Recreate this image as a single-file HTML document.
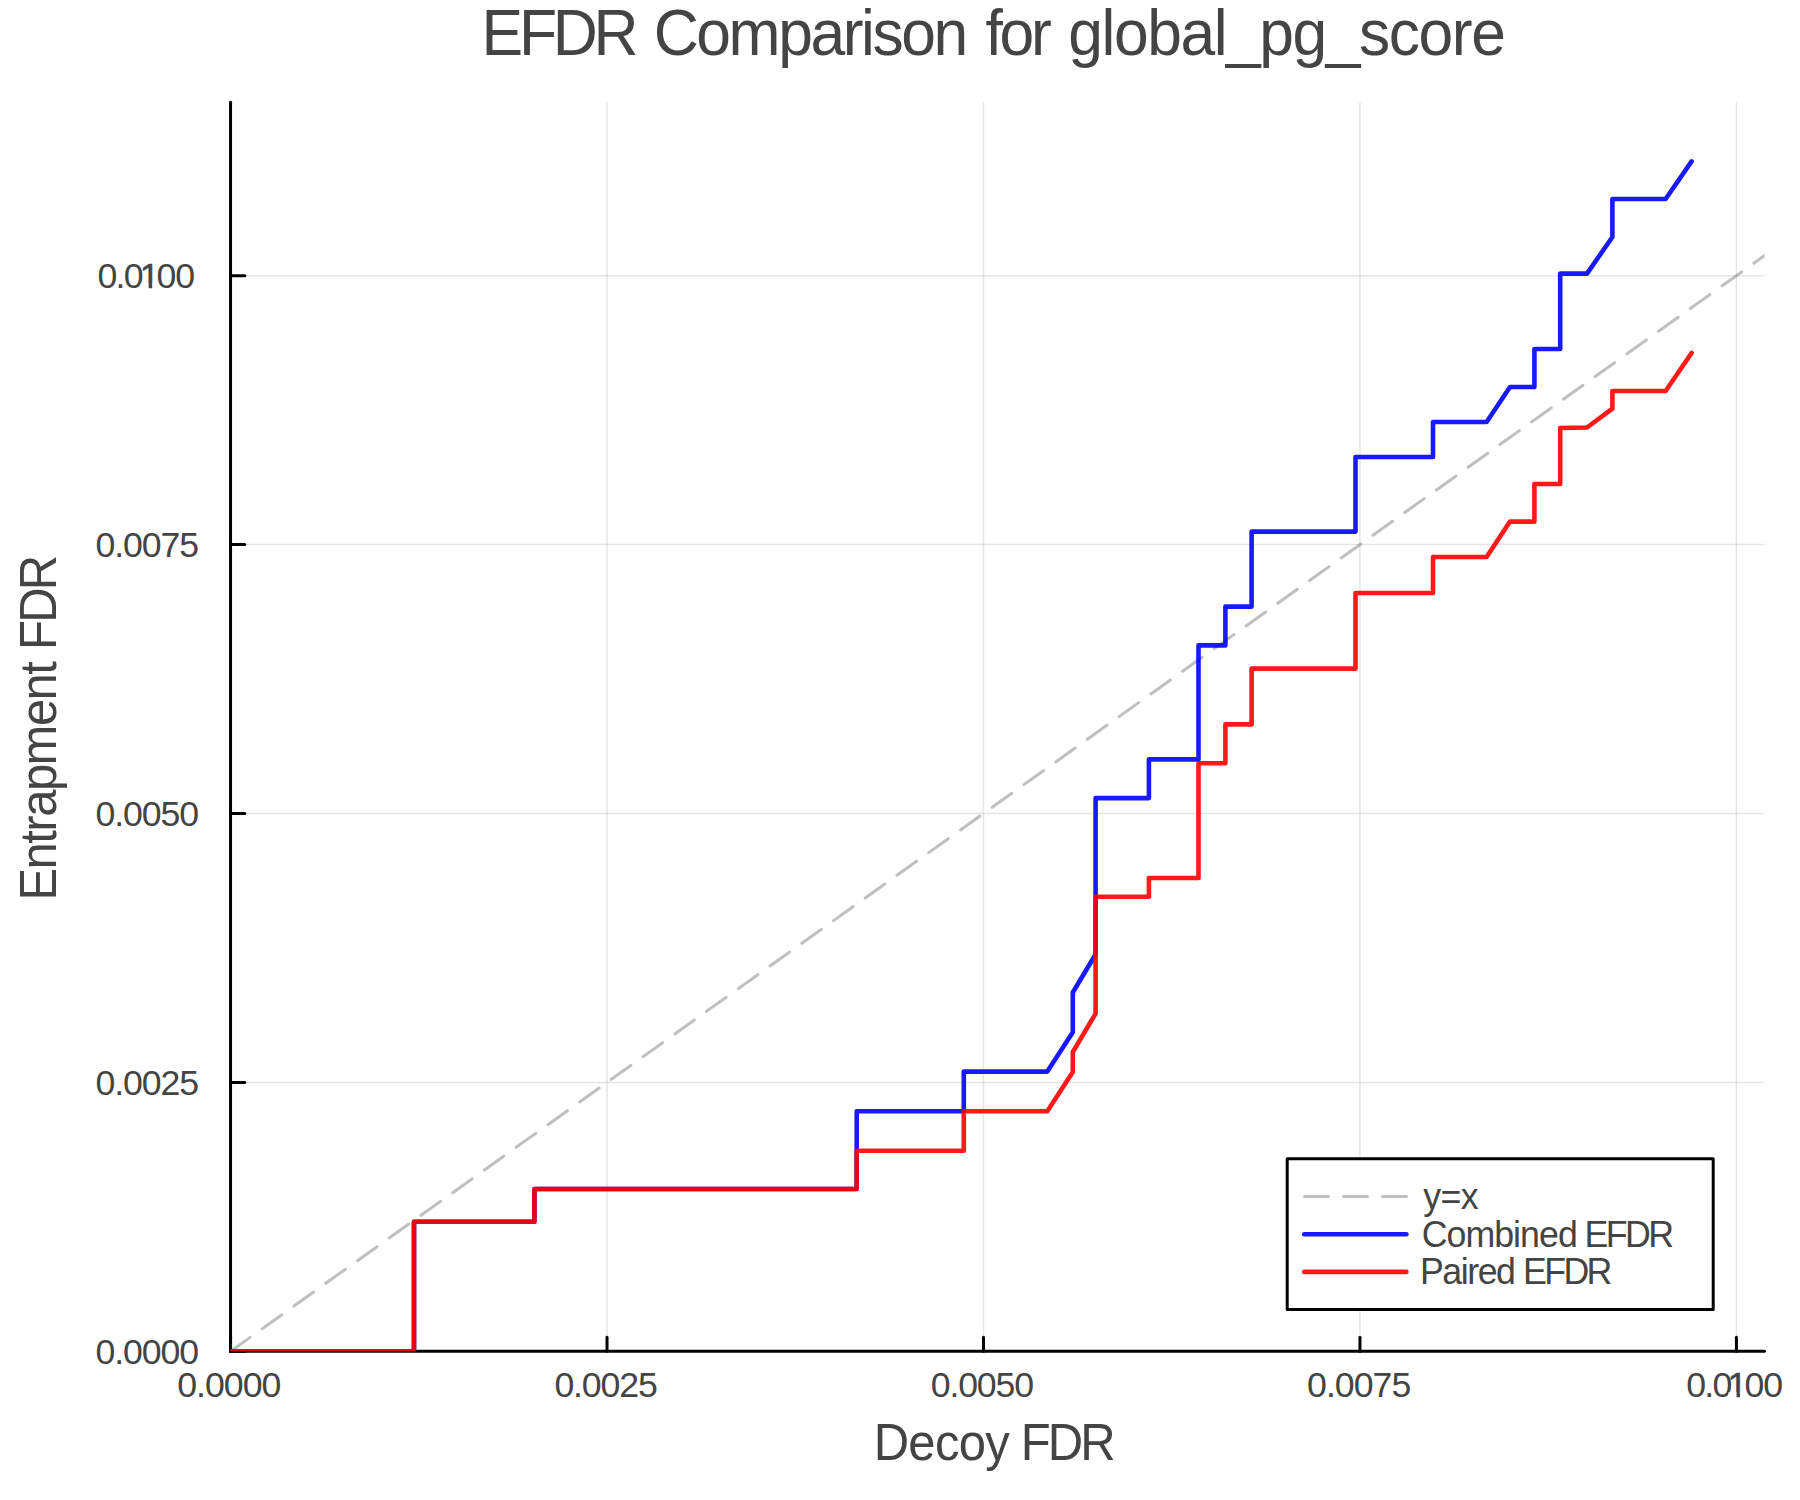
<!DOCTYPE html>
<html lang="en"><head><meta charset="utf-8"><title>EFDR Comparison for global_pg_score</title>
<style>
html,body{margin:0;padding:0;background:#fff;}
body{width:1800px;height:1500px;overflow:hidden;}
svg{display:block;}
text{font-family:"Liberation Sans",sans-serif;fill:#444444;white-space:pre;}
.tick{font-size:35.7px;}
.leg{font-size:35.7px;}
.guide{font-size:49.0px;}
.title{font-size:62.4px;}
.grid{stroke:#000;stroke-opacity:0.1;stroke-width:1.5;fill:none;}
.axis{stroke:#000;stroke-width:3;stroke-linecap:round;fill:none;}
.ser{fill:none;stroke-width:4.6;stroke-opacity:0.9;stroke-linejoin:round;stroke-linecap:round;}
</style></head><body>
<svg width="1800" height="1500" viewBox="0 0 1800 1500">
<rect width="1800" height="1500" fill="#ffffff"/>
<defs><clipPath id="pa"><rect x="230.55" y="102.3" width="1534.0" height="1249.0"/></clipPath></defs>
<g class="grid">
<line x1="607.02" y1="102.3" x2="607.02" y2="1351.35"/>
<line x1="983.49" y1="102.3" x2="983.49" y2="1351.35"/>
<line x1="1359.96" y1="102.3" x2="1359.96" y2="1351.35"/>
<line x1="1736.43" y1="102.3" x2="1736.43" y2="1351.35"/>
<line x1="230.55" y1="1082.42" x2="1764.5" y2="1082.42"/>
<line x1="230.55" y1="813.49" x2="1764.5" y2="813.49"/>
<line x1="230.55" y1="544.56" x2="1764.5" y2="544.56"/>
<line x1="230.55" y1="275.63" x2="1764.5" y2="275.63"/>
</g>
<g class="axis">
<line x1="230.55" y1="1351.35" x2="1764.5" y2="1351.35"/>
<line x1="230.55" y1="1351.35" x2="230.55" y2="102.3"/>
<line x1="230.55" y1="1351.35" x2="230.55" y2="1337.15"/>
<line x1="607.02" y1="1351.35" x2="607.02" y2="1337.15"/>
<line x1="983.49" y1="1351.35" x2="983.49" y2="1337.15"/>
<line x1="1359.96" y1="1351.35" x2="1359.96" y2="1337.15"/>
<line x1="1736.43" y1="1351.35" x2="1736.43" y2="1337.15"/>
<line x1="230.55" y1="1351.35" x2="244.75" y2="1351.35"/>
<line x1="230.55" y1="1082.42" x2="244.75" y2="1082.42"/>
<line x1="230.55" y1="813.49" x2="244.75" y2="813.49"/>
<line x1="230.55" y1="544.56" x2="244.75" y2="544.56"/>
<line x1="230.55" y1="275.63" x2="244.75" y2="275.63"/>
</g>
<g clip-path="url(#pa)">
<line x1="230.55" y1="1351.35" x2="1764.5" y2="255.58" stroke="#808080" stroke-opacity="0.5" stroke-width="3" stroke-dasharray="24 15" stroke-linecap="round"/>
<polyline class="ser" stroke="#0000ff" points="230.6,1351.3 414.0,1351.3 414.0,1221.7 534.4,1221.7 534.4,1189.0 856.7,1189.0 856.7,1111.3 963.8,1111.3 963.8,1071.6 1047.3,1071.6 1072.8,1032.3 1072.8,992.5 1095.6,954.3 1095.6,798.1 1148.9,798.1 1148.9,759.4 1198.5,759.4 1198.5,645.4 1225.4,645.4 1225.4,606.6 1251.6,606.6 1251.6,531.6 1355.5,531.6 1355.5,457.0 1433.0,457.0 1433.0,422.0 1486.6,422.0 1510.0,387.0 1534.4,387.0 1534.4,349.0 1560.2,349.0 1560.2,273.6 1587.0,273.6 1612.4,237.0 1612.4,199.0 1665.6,199.0 1691.6,161.4"/>
<polyline class="ser" stroke="#ff0000" points="230.6,1351.3 414.0,1351.3 414.0,1221.7 534.4,1221.7 534.4,1189.0 856.7,1189.0 856.7,1150.8 963.8,1150.8 963.8,1111.3 1047.3,1111.3 1072.8,1072.0 1072.8,1052.0 1095.6,1013.6 1095.6,896.7 1148.9,896.7 1148.9,878.0 1198.5,878.0 1198.5,763.3 1225.4,763.3 1225.4,724.4 1251.6,724.4 1251.6,668.6 1355.5,668.6 1355.5,593.0 1433.0,593.0 1433.0,557.0 1486.6,557.0 1510.0,521.6 1534.4,521.6 1534.4,484.0 1560.2,484.0 1560.2,428.0 1587.0,427.5 1612.4,408.6 1612.4,391.0 1665.6,391.0 1691.6,353.0"/>
</g>
<rect x="1287.2" y="1158.8" width="426" height="150.6" fill="#fff" stroke="#000" stroke-width="3" stroke-linejoin="round"/>
<line x1="1304.5" y1="1196.4" x2="1407" y2="1196.4" stroke="#808080" stroke-opacity="0.5" stroke-width="3" stroke-dasharray="24 15" stroke-linecap="round"/>
<line x1="1304.2" y1="1234.3" x2="1406.4" y2="1234.3" stroke="#0000ff" stroke-opacity="0.9" stroke-width="4.6" stroke-linecap="round"/>
<line x1="1304.2" y1="1271.9" x2="1406.4" y2="1271.9" stroke="#ff0000" stroke-opacity="0.9" stroke-width="4.6" stroke-linecap="round"/>
<text class="title" transform="translate(0,54.70) scale(1,1.04)" y="0"><tspan x="481.63" style="letter-spacing:-4.27px">EFDR </tspan><tspan x="653.68" style="letter-spacing:-2.42px">Comparison </tspan><tspan x="985.43" style="letter-spacing:-3.22px">for </tspan><tspan x="1068.23" style="letter-spacing:-1.45px">global_pg_score</tspan></text>
<text class="guide" transform="translate(0,1460.20) scale(1,1.05)" y="0"><tspan x="873.67" style="letter-spacing:-0.68px">Decoy </tspan><tspan x="1020.67" style="letter-spacing:-2.82px">FDR</tspan></text>
<text class="guide" transform="translate(55.70,2000) rotate(-90) scale(1,1.05)" y="0"><tspan x="1099.42" style="letter-spacing:-1.52px">Entrapment </tspan><tspan x="1350.07" style="letter-spacing:-2.82px">FDR</tspan></text>
<text class="leg" transform="translate(0,1208.70) scale(1,1.04)" y="0"><tspan x="1423.30" style="letter-spacing:-0.62px">y=x</tspan></text>
<text class="leg" transform="translate(0,1246.50) scale(1,1.04)" y="0"><tspan x="1421.65" style="letter-spacing:-0.94px">Combined </tspan><tspan x="1584.50" style="letter-spacing:-2.57px">EFDR</tspan></text>
<text class="leg" transform="translate(0,1283.90) scale(1,1.04)" y="0"><tspan x="1419.95" style="letter-spacing:-1.43px">Paired </tspan><tspan x="1522.95" style="letter-spacing:-2.57px">EFDR</tspan></text>
<text class="tick" transform="translate(0,1396.80) scale(1,1.0)" y="0"><tspan x="177.18" style="letter-spacing:-0.98px">0.0000</tspan></text>
<text class="tick" transform="translate(0,1396.80) scale(1,1.0)" y="0"><tspan x="554.39" style="letter-spacing:-1.16px">0.0025</tspan></text>
<text class="tick" transform="translate(0,1396.80) scale(1,1.0)" y="0"><tspan x="930.71" style="letter-spacing:-1.16px">0.0050</tspan></text>
<text class="tick" transform="translate(0,1396.80) scale(1,1.0)" y="0"><tspan x="1307.02" style="letter-spacing:-0.98px">0.0075</tspan></text>
<clipPath id="cxt4a"><path clip-rule="evenodd" d="M1681.15 1356.80H1804.40V1408.80H1681.15ZM1728.40 1392.20H1736.55V1398.80H1728.40ZM1740.05 1392.20H1746.80V1398.80H1740.05Z"/></clipPath><g clip-path="url(#cxt4a)"><text class="tick" transform="translate(0,1396.80) scale(1,1.0)" y="0"><tspan x="1686.15" style="letter-spacing:-1.75px">0.0</tspan><tspan x="1727.60" stroke="#444444" stroke-width="0.5" style="letter-spacing:-1.07px">1</tspan><tspan x="1744.40" style="letter-spacing:-1.07px">00</tspan></text></g>
<text class="tick" transform="translate(0,1363.85) scale(1,1.0)" y="0"><tspan x="95.40" style="letter-spacing:-1.07px">0.0000</tspan></text>
<text class="tick" transform="translate(0,1094.92) scale(1,1.0)" y="0"><tspan x="95.40" style="letter-spacing:-1.07px">0.0025</tspan></text>
<text class="tick" transform="translate(0,825.99) scale(1,1.0)" y="0"><tspan x="95.40" style="letter-spacing:-1.07px">0.0050</tspan></text>
<text class="tick" transform="translate(0,557.06) scale(1,1.0)" y="0"><tspan x="95.40" style="letter-spacing:-1.07px">0.0075</tspan></text>
<clipPath id="cyt4a"><path clip-rule="evenodd" d="M92.40 248.13H216.55V300.13H92.40ZM140.55 283.53H148.70V290.13H140.55ZM152.20 283.53H158.95V290.13H152.20Z"/></clipPath><g clip-path="url(#cyt4a)"><text class="tick" transform="translate(0,288.13) scale(1,1.0)" y="0"><tspan x="97.40" style="letter-spacing:-1.75px">0.0</tspan><tspan x="139.75" stroke="#444444" stroke-width="0.5" style="letter-spacing:-1.07px">1</tspan><tspan x="156.55" style="letter-spacing:-1.07px">00</tspan></text></g>
</svg></body></html>
